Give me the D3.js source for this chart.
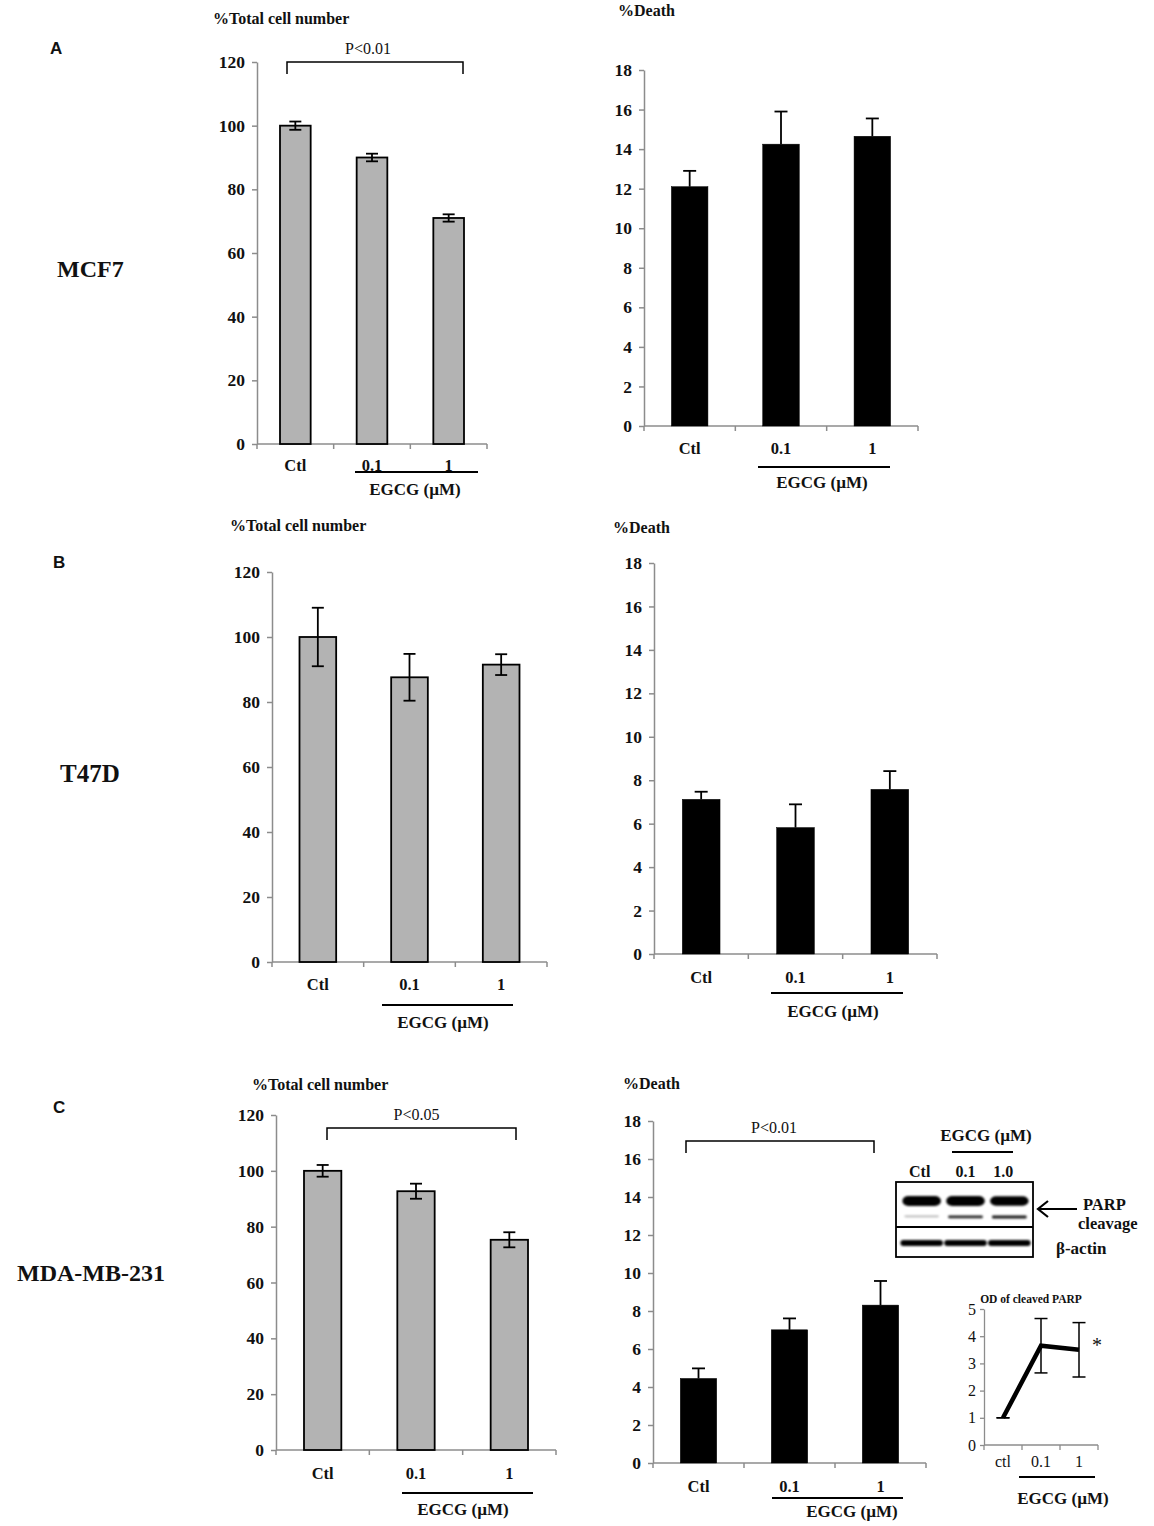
<!DOCTYPE html>
<html><head><meta charset="utf-8">
<script src="https://cdn.jsdelivr.net/npm/d3@7"></script>
<style>body{margin:0;background:#fff} svg{display:block}</style>
</head><body><svg id="c" width="1154" height="1526"></svg>
<script>
// ---------- data ----------
const categories = ["Ctl", "0.1", "1"];
const totalTicks = [0, 20, 40, 60, 80, 100, 120];
const deathTicks = [0, 2, 4, 6, 8, 10, 12, 14, 16, 18];

const mcf7Total = [100, 90, 71];
const mcf7TotalErr = [1.3, 1.2, 1.15];
const mcf7Death = [12.1, 14.25, 14.65];
const mcf7DeathErr = [0.8, 1.65, 0.9];

const t47dTotal = [100, 87.6, 91.5];
const t47dTotalErr = [9, 7.2, 3.2];
const t47dDeath = [7.12, 5.82, 7.58];
const t47dDeathErr = [0.35, 1.07, 0.84];

const mdaTotal = [100, 92.7, 75.3];
const mdaTotalErr = [2.1, 2.7, 2.7];
const mdaDeath = [4.45, 7.01, 8.31];
const mdaDeathErr = [0.53, 0.6, 1.27];

const odCategories = ["ctl", "0.1", "1"];
const odValues = [1, 3.65, 3.5];
const odErr = [0, 1.0, 1.0];
const odTicks = [0, 1, 2, 3, 4, 5];

const blotLanes = ["Ctl", "0.1", "1.0"];
const parpFull = [1, 1, 0.95];
const parpCleaved = [0.3, 0.85, 0.9];
const betaActin = [1, 1, 1];

// ---------- drawing ----------
const svg = d3.select("#c");
svg.append("rect").attr("width", 1154).attr("height", 1526).attr("fill", "#fff");
const SERIF = "'Liberation Serif','Times New Roman',Times,serif";
const SANS = "'Liberation Sans',Arial,Helvetica,sans-serif";
const AXIS = "#8c8c8c";

function txt(g, s, x, y, o = {}) {
  return g.append("text").attr("x", x).attr("y", y).text(s)
    .attr("font-family", o.family || SERIF)
    .attr("font-weight", o.weight || "bold")
    .attr("font-size", o.size || 16)
    .attr("text-anchor", o.anchor || "start")
    .attr("fill", "#111");
}

function barPanel(o) {
  const g = svg.append("g");
  const x = d3.scaleBand().domain(categories).range([o.x0, o.x1]).paddingInner(0.6).paddingOuter(0.3);
  const y = d3.scaleLinear().domain([0, d3.max(o.ticks)]).range([o.y0, o.yTop]);
  const step = x.step();

  // y axis
  const gy = g.append("g").attr("transform", `translate(${o.x0},0)`)
    .call(d3.axisLeft(y).tickValues(o.ticks).tickSize(5).tickPadding(7).tickSizeOuter(0));
  gy.select(".domain").attr("stroke", AXIS).attr("stroke-width", 1.5);
  gy.selectAll(".tick line").attr("stroke", AXIS).attr("stroke-width", 1.5);
  gy.selectAll(".tick text").attr("font-family", SERIF).attr("font-weight", "bold")
    .attr("font-size", 17.5).attr("fill", "#111");

  // x axis line with boundary ticks
  g.append("line").attr("x1", o.x0).attr("x2", o.x1).attr("y1", o.y0).attr("y2", o.y0)
    .attr("stroke", AXIS).attr("stroke-width", 1.5);
  g.selectAll(".xt").data(d3.range(categories.length + 1)).join("line")
    .attr("x1", i => x.range()[0] + i * step).attr("x2", i => x.range()[0] + i * step)
    .attr("y1", o.y0).attr("y2", o.y0 + 5).attr("stroke", AXIS).attr("stroke-width", 1.5);

  const data = categories.map((c, i) => ({ c, v: o.values[i], e: o.errs[i] }));
  // bars
  g.selectAll(".bar").data(data).join("rect")
    .attr("x", d => x(d.c)).attr("width", x.bandwidth())
    .attr("y", d => y(d.v)).attr("height", d => y(0) - y(d.v))
    .attr("fill", o.fill).attr("stroke", "#000").attr("stroke-width", o.two ? 1.8 : 0.5);

  // error bars
  const cx = d => x(d.c) + x.bandwidth() / 2;
  const cw = o.two ? 6 : 6.5;
  g.selectAll(".es").data(data).join("line")
    .attr("x1", cx).attr("x2", cx)
    .attr("y1", d => o.two ? y(d.v - d.e) : y(d.v)).attr("y2", d => y(d.v + d.e))
    .attr("stroke", "#000").attr("stroke-width", 1.8);
  g.selectAll(".ct").data(data).join("line")
    .attr("x1", d => cx(d) - cw).attr("x2", d => cx(d) + cw)
    .attr("y1", d => y(d.v + d.e)).attr("y2", d => y(d.v + d.e))
    .attr("stroke", "#000").attr("stroke-width", 1.8);
  if (o.two) {
    g.selectAll(".cb").data(data).join("line")
      .attr("x1", d => cx(d) - cw).attr("x2", d => cx(d) + cw)
      .attr("y1", d => y(d.v - d.e)).attr("y2", d => y(d.v - d.e))
      .attr("stroke", "#000").attr("stroke-width", 1.8);
  }

  // category labels
  data.forEach(d => txt(g, d.c, cx(d), o.labY, { anchor: "middle", size: 16.5 }));
  // EGCG underline + label
  g.append("line").attr("x1", o.ul[0]).attr("x2", o.ul[1]).attr("y1", o.ulY).attr("y2", o.ulY)
    .attr("stroke", "#000").attr("stroke-width", 1.8);
  txt(g, "EGCG (\u00b5M)", o.egX, o.egY, { anchor: "middle", size: 17 });
  // title
  txt(g, o.title, o.tX, o.tY, { size: 16 });
  // significance bracket
  if (o.br) {
    const b = o.br;
    g.append("path").attr("d", `M${b.x[0]},${b.y + 12}V${b.y}H${b.x[1]}V${b.y + 12}`)
      .attr("fill", "none").attr("stroke", "#000").attr("stroke-width", 1.5);
    txt(g, b.t, (b.x[0] + b.x[1]) / 2 + (b.dx || 0), b.ty, { anchor: "middle", weight: "normal", size: 16 });
  }
}

barPanel({ values: mcf7Total, errs: mcf7TotalErr, ticks: totalTicks, two: true, fill: "#b3b3b3",
  x0: 257, x1: 487, yTop: 62, y0: 444, labY: 471, ul: [355, 478], ulY: 472, egX: 415, egY: 495,
  title: "%Total cell number", tX: 213, tY: 24,
  br: { x: [287, 463], y: 62, t: "P<0.01", ty: 54, dx: -7 } });
barPanel({ values: mcf7Death, errs: mcf7DeathErr, ticks: deathTicks, two: false, fill: "#000",
  x0: 644, x1: 918, yTop: 70, y0: 426, labY: 454, ul: [758, 890], ulY: 467, egX: 822, egY: 488,
  title: "%Death", tX: 618, tY: 16 });

barPanel({ values: t47dTotal, errs: t47dTotalErr, ticks: totalTicks, two: true, fill: "#b3b3b3",
  x0: 272, x1: 547, yTop: 572, y0: 962, labY: 990, ul: [382, 513], ulY: 1005, egX: 443, egY: 1028,
  title: "%Total cell number", tX: 230, tY: 531 });
barPanel({ values: t47dDeath, errs: t47dDeathErr, ticks: deathTicks, two: false, fill: "#000",
  x0: 654, x1: 937, yTop: 563, y0: 954, labY: 983, ul: [771, 903], ulY: 993, egX: 833, egY: 1017,
  title: "%Death", tX: 613, tY: 533 });

barPanel({ values: mdaTotal, errs: mdaTotalErr, ticks: totalTicks, two: true, fill: "#b3b3b3",
  x0: 276, x1: 556, yTop: 1115, y0: 1450, labY: 1479, ul: [402, 533], ulY: 1493, egX: 463, egY: 1515,
  title: "%Total cell number", tX: 252, tY: 1090,
  br: { x: [327, 516], y: 1128, t: "P<0.05", ty: 1120, dx: -5 } });
barPanel({ values: mdaDeath, errs: mdaDeathErr, ticks: deathTicks, two: false, fill: "#000",
  x0: 653, x1: 926, yTop: 1121, y0: 1463, labY: 1492, ul: [772, 903], ulY: 1498, egX: 852, egY: 1517,
  title: "%Death", tX: 623, tY: 1089,
  br: { x: [686, 874], y: 1141, t: "P<0.01", ty: 1133, dx: -6 } });

// panel letters and cell lines
const lab = svg.append("g");
txt(lab, "A", 50, 54, { family: SANS, size: 17 });
txt(lab, "B", 53, 568, { family: SANS, size: 17 });
txt(lab, "C", 53, 1113, { family: SANS, size: 17 });
txt(lab, "MCF7", 57, 277, { size: 24 });
txt(lab, "T47D", 60, 782, { size: 25 });
txt(lab, "MDA-MB-231", 17, 1281, { size: 24 });

// ---------- western blot inset ----------
const wb = svg.append("g");
const defs = svg.append("defs");
defs.append("filter").attr("id", "blur").attr("x", "-20%").attr("y", "-100%").attr("width", "140%").attr("height", "300%")
  .append("feGaussianBlur").attr("stdDeviation", 1.1);
const lane = d3.scaleBand().domain(blotLanes).range([898, 1033]).paddingInner(0.12).paddingOuter(0.1);
txt(wb, "EGCG (\u00b5M)", 986, 1141, { anchor: "middle", size: 17 });
wb.append("line").attr("x1", 952).attr("x2", 1013).attr("y1", 1152).attr("y2", 1152).attr("stroke", "#000").attr("stroke-width", 1.8);
blotLanes.forEach(l => txt(wb, l, lane(l) + lane.bandwidth() / 2 + (l === "1.0" ? -6 : (l === "Ctl" ? -2 : 0)), 1177, { anchor: "middle", size: 16 }));
wb.append("rect").attr("x", 896).attr("y", 1182).attr("width", 137).attr("height", 75)
  .attr("fill", "#fff").attr("stroke", "#000").attr("stroke-width", 1.8);
wb.append("line").attr("x1", 896).attr("x2", 1033).attr("y1", 1227).attr("y2", 1227).attr("stroke", "#000").attr("stroke-width", 1.8);
const bands = wb.append("g").attr("filter", "url(#blur)");
bands.selectAll(".pf").data(blotLanes).join("rect")
  .attr("x", l => lane(l)).attr("width", lane.bandwidth())
  .attr("y", (l, i) => 1201 - 5 * parpFull[i]).attr("height", (l, i) => 10 * parpFull[i])
  .attr("rx", 6).attr("fill", "#000");
bands.selectAll(".pc").data(blotLanes).join("rect")
  .attr("x", l => lane(l) + 2).attr("width", lane.bandwidth() - 4)
  .attr("y", 1215.5).attr("height", (l, i) => 1 + 2.2 * parpCleaved[i])
  .attr("rx", 1).attr("fill", "#000").attr("opacity", (l, i) => parpCleaved[i]);
bands.selectAll(".ba").data(blotLanes).join("rect")
  .attr("x", l => lane(l) - 2).attr("width", lane.bandwidth() + 4)
  .attr("y", (l, i) => 1243 - 3 * betaActin[i]).attr("height", (l, i) => 6 * betaActin[i])
  .attr("rx", 3).attr("fill", "#000");
// arrow
wb.append("line").attr("x1", 1077).attr("x2", 1039).attr("y1", 1209).attr("y2", 1209).attr("stroke", "#000").attr("stroke-width", 2);
wb.append("path").attr("d", "M1048,1201L1038,1209L1048,1217").attr("fill", "none").attr("stroke", "#000").attr("stroke-width", 2.2);
txt(wb, "PARP", 1083, 1210, { size: 16.5 });
txt(wb, "cleavage", 1078, 1229, { size: 16.5 });
txt(wb, "\u03b2-actin", 1056, 1254, { size: 17 });

// ---------- OD line inset ----------
const od = svg.append("g");
const ox = d3.scaleBand().domain(odCategories).range([984, 1098]);
const oy = d3.scaleLinear().domain([0, 5]).range([1445, 1309]);
const gyo = od.append("g").attr("transform", "translate(984,0)")
  .call(d3.axisLeft(oy).tickValues(odTicks).tickFormat(d3.format("d")).tickSize(4).tickPadding(4).tickSizeOuter(0));
gyo.select(".domain").attr("stroke", AXIS).attr("stroke-width", 1.3);
gyo.selectAll(".tick line").attr("stroke", AXIS).attr("stroke-width", 1.3);
gyo.selectAll(".tick text").attr("font-family", SERIF).attr("font-size", 16).attr("fill", "#111");
od.append("line").attr("x1", 984).attr("x2", 1098).attr("y1", 1445).attr("y2", 1445).attr("stroke", AXIS).attr("stroke-width", 1.3);
od.selectAll(".xt").data(d3.range(4)).join("line")
  .attr("x1", i => 984 + i * ox.step()).attr("x2", i => 984 + i * ox.step())
  .attr("y1", 1445).attr("y2", 1450).attr("stroke", AXIS).attr("stroke-width", 1.3);
const odData = odCategories.map((c, i) => ({ c, v: odValues[i], e: odErr[i] }));
const ocx = d => ox(d.c) + ox.bandwidth() / 2;
od.selectAll(".oe").data(odData).join("line")
  .attr("x1", ocx).attr("x2", ocx).attr("y1", d => oy(d.v - d.e)).attr("y2", d => oy(d.v + d.e))
  .attr("stroke", "#000").attr("stroke-width", 1.5);
["t", "b"].forEach(k => od.selectAll(".oc" + k).data(odData).join("line")
  .attr("x1", d => ocx(d) - 6.5).attr("x2", d => ocx(d) + 6.5)
  .attr("y1", d => oy(k === "t" ? d.v + d.e : d.v - d.e)).attr("y2", d => oy(k === "t" ? d.v + d.e : d.v - d.e))
  .attr("stroke", "#000").attr("stroke-width", 1.5));
od.append("path").datum(odData)
  .attr("d", d3.line().x(ocx).y(d => oy(d.v)))
  .attr("fill", "none").attr("stroke", "#000").attr("stroke-width", 4.5).attr("stroke-linejoin", "miter");
txt(od, "OD of cleaved PARP", 1031, 1303, { anchor: "middle", size: 11.5 });
odData.forEach(d => txt(od, d.c, ocx(d), 1467, { anchor: "middle", weight: "normal", size: 16 }));
txt(od, "*", 1097, 1352, { anchor: "middle", weight: "normal", size: 20 });
od.append("line").attr("x1", 1019).attr("x2", 1095).attr("y1", 1477).attr("y2", 1477).attr("stroke", "#000").attr("stroke-width", 1.8);
txt(od, "EGCG (\u00b5M)", 1063, 1504, { anchor: "middle", size: 17 });
</script></body></html>
